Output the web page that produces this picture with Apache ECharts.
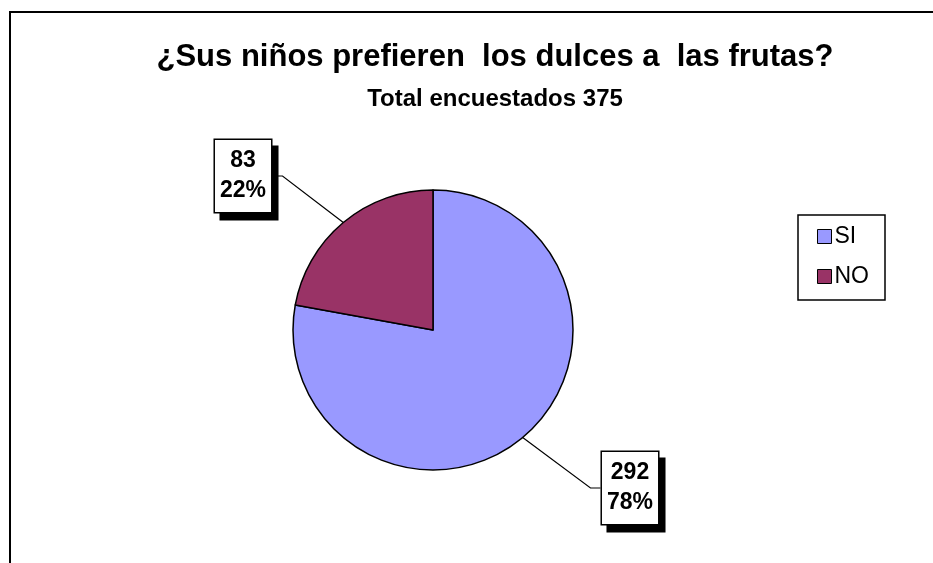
<!DOCTYPE html>
<html>
<head>
	<meta charset="utf-8">
	<title>Encuesta dulces frutas</title>
	<script src="https://cdn.jsdelivr.net/npm/echarts@6/dist/echarts.min.js"></script>
	<style>
		html, body { margin: 0; padding: 0; background: #fff; }
		#main { width: 933px; height: 563px; }
	</style>
</head>
<body>
<div id="main"></div>
<script type="text/javascript">
// datos de la encuesta
var categorias = ['SI', 'NO'];
var valores = [292, 83];
var colores = ['#9999FF', '#993366'];
var titulo = '¿Sus niños prefieren  los dulces a  las frutas?';
var subtitulo = 'Total encuestados 375';

var myChart = echarts.init(document.getElementById('main'));

var datos = [];
for (var i = 0; i < categorias.length; i++) {
	datos.push({ name: categorias[i], value: valores[i], itemStyle: { color: colores[i] } });
}

var fuente = '"Liberation Sans", Arial, sans-serif';

var option = {
	animation: false,
	backgroundColor: '#fff',
	// marco del grafico (solo se ve arriba y a la izquierda)
	graphic: [{
		type: 'rect',
		shape: { x: 10, y: 12, width: 1000, height: 1000 },
		style: { fill: null, stroke: '#000', lineWidth: 2 },
		silent: true
	}],
	title: {
		text: titulo,
		subtext: subtitulo,
		left: 490,
		top: 37,
		textAlign: 'center',
		itemGap: 14,
		textStyle: { fontFamily: fuente, fontSize: 31, fontWeight: 'bold', color: '#000' },
		subtextStyle: { fontFamily: fuente, fontSize: 24, fontWeight: 'bold', color: '#000' }
	},
	legend: {
		orient: 'vertical',
		left: 798,
		top: 215,
		padding: [10, 16, 12, 19],
		itemGap: 17,
		itemWidth: 14,
		itemHeight: 14,
		borderColor: '#000',
		borderWidth: 1.5,
		icon: 'rect',
		itemStyle: { borderColor: '#000', borderWidth: 1 },
		textStyle: { fontFamily: fuente, fontSize: 23, color: '#000', padding: [0, 0, 0, -2] },
		data: categorias
	},
	series: [{
		type: 'pie',
		center: [433, 330],
		radius: 140,
		startAngle: 90,
		clockwise: true,
		itemStyle: { borderColor: '#000', borderWidth: 1.5 },
		label: {
			show: true,
			position: 'outside',
			formatter: function (p) { return p.value + '\n' + Math.round(p.percent) + '%'; },
			fontFamily: fuente,
			fontSize: 23,
			fontWeight: 'bold',
			color: '#000',
			lineHeight: 30,
			backgroundColor: '#fff',
			borderColor: '#000',
			borderWidth: 1.5,
			padding: [7, 5, 5, 5],
			shadowColor: '#000',
			shadowOffsetX: 6,
			shadowOffsetY: 7,
			shadowBlur: 0
		},
		labelLine: { show: true, length: 20, length2: 10, lineStyle: { color: '#000', width: 1.2 } },
		labelLayout: function (p) {
			if (p.dataIndex === 1) {
				return { x: 243, y: 176, align: 'center', verticalAlign: 'middle' };
			}
			return { x: 630, y: 488, align: 'center', verticalAlign: 'middle' };
		},
		emphasis: { disabled: true },
		data: datos
	}]
};

myChart.setOption(option);
</script>
</body>
</html>
